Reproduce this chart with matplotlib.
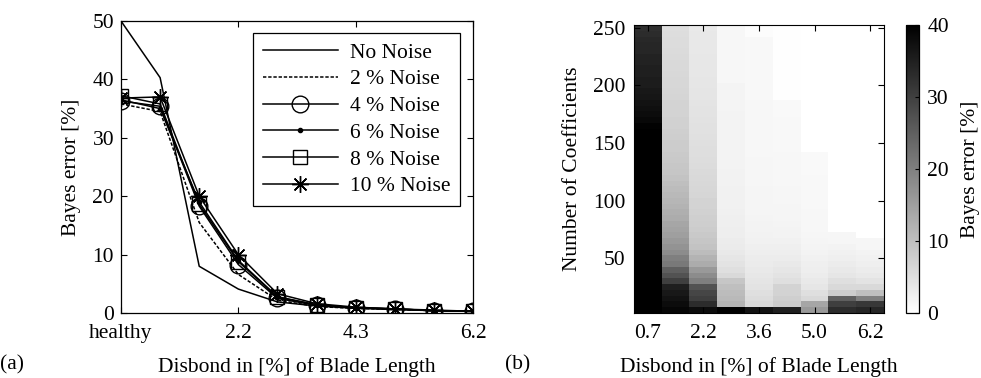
import numpy as np
import matplotlib
matplotlib.use("Agg")
import matplotlib.pyplot as plt

plt.rcParams["font.family"] = ["Liberation Serif", "DejaVu Serif"]
plt.rcParams["font.size"] = 15.5

# ---- panel (a): Bayes error vs disbond size for noise levels ----
x_pos = np.arange(10)
x_ticks = [0, 3, 6, 9]
x_ticklabels = ["healthy", "2.2", "4.3", "6.2"]

no_noise = [50.0, 40.3, 8.0, 4.1, 1.9, 1.2, 0.8, 0.6, 0.4, 0.3]
noise2 = [35.8, 34.5, 15.5, 6.6, 2.2, 1.1, 0.8, 0.6, 0.4, 0.3]
noise4 = [36.3, 35.4, 18.3, 8.3, 2.5, 1.3, 0.9, 0.7, 0.4, 0.3]
noise6 = [36.5, 35.0, 19.0, 9.0, 2.8, 1.4, 0.9, 0.7, 0.4, 0.3]
noise8 = [37.2, 35.8, 18.6, 8.8, 2.7, 1.4, 0.9, 0.7, 0.4, 0.3]
noise10 = [36.8, 37.0, 20.0, 10.0, 3.3, 1.6, 1.0, 0.7, 0.5, 0.3]

# ---- panel (b): Bayes error map, coefficients x disbond ----
disbond = [0.7, 1.5, 2.2, 2.9, 3.6, 4.3, 5.0, 5.6, 6.2]
n_coef = np.arange(5, 255, 5)  # 5 .. 250

# one list per disbond column, from n=5 up to n=250 (50 values)
col0 = [42] * 30 + [40.5, 40, 39.5, 38.5, 38, 37.5, 37, 36.5, 36, 35.5,
                    35.5, 35, 35, 34.5, 34.5, 34, 34, 33.5, 33, 32.5]
col1 = [39, 38, 37, 36, 35, 30, 27, 25, 21, 20,
        18, 17, 16, 15, 14.5, 14, 13, 12.5, 12, 11.5,
        11, 10.5, 10, 9.5, 9, 8.8, 8.5, 8.3, 8, 8,
        7.8, 7.5, 7.3, 7.2, 7, 7, 6.8, 6.7, 6.5, 6.4,
        6.3, 6.2, 6, 6, 5.8, 5.7, 5.6, 5.5, 5.4, 5.3]
col2 = [38, 33, 30, 29, 27, 20, 18, 16, 13, 12,
        10.5, 9.5, 9, 8.5, 8, 7.8, 7.5, 7.2, 7, 6.8,
        6.5, 6.3, 6.2, 6, 5.8, 5.6, 5.4, 5.3, 5.2, 5,
        4.9, 4.8, 4.7, 4.6, 4.5, 4.4, 4.3, 4.2, 4.1, 4,
        4, 3.9, 3.9, 3.8, 3.8, 3.7, 3.7, 3.6, 3.6, 3.5]
col3 = [40, 12, 11, 10.5, 10, 9, 6, 5, 4.5, 4,
        3.5, 3.2, 3, 2.8, 2.7, 2.6, 2.5, 2.4, 2.3, 2.2,
        2.2, 2.2, 2.1, 2.1, 2.1, 2.0, 2.0, 2.0, 2.0, 2.0,
        1.9, 1.9, 1.9, 1.9, 1.9, 1.8, 1.8, 1.8, 1.8, 1.8,
        1.4, 1.4, 1.4, 1.4, 1.4, 1.4, 1.4, 1.4, 1.4, 1.4]
col4 = [37, 6, 5.5, 5, 4.5, 4.2, 3.8, 3.5, 3.2, 3,
        2.7, 2.5, 2.3, 2.1, 2, 1.9, 1.8, 1.7, 1.7, 1.6,
        1.6, 1.6, 1.5, 1.5, 1.5, 1.5, 1.5, 1.4, 1.4, 1.4,
        1.4, 1.4, 1.3, 1.3, 1.3, 1.3, 1.3, 1.2, 1.2, 1.2,
        1.2, 1.2, 1.2, 1.1, 1.1, 1.1, 1.1, 1.1, 0.5, 0.5]
col5 = [35, 8, 7.5, 7, 7, 5, 4.5, 4, 3.5, 3,
        2.8, 2.5, 2.2, 2, 1.9, 1.8, 1.7, 1.6, 1.6, 1.5,
        1.5, 1.5, 1.4, 1.4, 1.4, 1.3, 1.3, 1.3, 1.2, 1.2,
        1.2, 1.1, 1.1, 1.1, 1.0, 1.0, 1.0, 0.3, 0.3, 0.3,
        0.3, 0.3, 0.3, 0.3, 0.3, 0.3, 0.3, 0.3, 0.3, 0.3]
col6 = [16, 14, 6, 5, 4, 3.5, 3, 2.8, 2.5, 2.2,
        2, 1.8, 1.6, 1.5, 1.4, 1.4, 1.3, 1.3, 1.2, 1.2,
        1.2, 1.1, 1.1, 1.1, 1.0, 1.0, 1.0, 1.0] + [0] * 22
col7 = [33, 30, 25, 8, 6, 5, 4, 3.5, 3, 2.5,
        2.2, 2, 1.5, 1.5] + [0] * 36
col8 = [34, 31, 20, 10, 6, 4.5, 3.5, 3, 2.5, 2.2,
        2, 1.5, 1.5] + [0] * 37

err_map = np.array([col0, col1, col2, col3, col4, col5, col6, col7, col8]).T

fig = plt.figure(figsize=(9.81, 3.78), dpi=100)

# ------------------------- (a) -------------------------
ax1 = fig.add_axes([121 / 981, 65 / 378, 352 / 981, 292 / 378])
lw = 1.1
ax1.plot(x_pos, no_noise, color="k", lw=lw, label="No Noise")
ax1.plot(x_pos, noise2, color="k", lw=lw, ls=(0, (2.2, 1.2)), label="2 % Noise")
ax1.plot(x_pos, noise4, color="k", lw=lw, marker="o", ms=12, mfc="none", mew=1.0,
         label="4 % Noise")
ax1.plot(x_pos, noise6, color="k", lw=lw, marker=".", ms=6, label="6 % Noise")
ax1.plot(x_pos, noise8, color="k", lw=lw, marker="s", ms=10, mfc="none", mew=1.0,
         label="8 % Noise")
ax1.plot(x_pos, noise10, color="k", lw=lw, marker=(8, 2, 0), ms=12, mew=1.0,
         label="10 % Noise")

ax1.set_xlim(0, 9)
ax1.set_ylim(0, 50)
ax1.set_xticks(x_ticks)
ax1.set_xticklabels(x_ticklabels)
ax1.set_yticks([0, 10, 20, 30, 40, 50])
ax1.tick_params(direction="in", top=True, right=True, length=4, width=0.8)
ax1.tick_params(axis="x", pad=8)
ax1.tick_params(axis="y", pad=5)
ax1.set_ylabel("Bayes error [%]", labelpad=8)
ax1.set_xlabel("Disbond in [%] of Blade Length", labelpad=10)
for sp in ax1.spines.values():
    sp.set_linewidth(0.9)

leg = ax1.legend(loc="upper right", bbox_to_anchor=((460 - 121) / 352, (313 - 33) / 292),
                 borderaxespad=0, fancybox=False, framealpha=1, edgecolor="k",
                 handlelength=3.5, handletextpad=0.55, labelspacing=0.31,
                 borderpad=0.45)
leg.get_frame().set_linewidth(0.9)

# ------------------------- (b) -------------------------
ax2 = fig.add_axes([634 / 981, 65 / 378, 250 / 981, 288 / 378])
im = ax2.imshow(err_map, cmap="gray_r", vmin=0, vmax=40, origin="lower",
                aspect="auto", interpolation="nearest",
                extent=(-0.5, len(disbond) - 0.5, n_coef[0] - 2.5, n_coef[-1] + 2.5))
ax2.set_xticks(range(0, len(disbond), 2))
ax2.set_xticklabels(["%.1f" % d for d in disbond[::2]])
ax2.set_yticks([50, 100, 150, 200, 250])
ax2.tick_params(direction="in", top=True, right=True, length=4, width=0.8)
ax2.tick_params(axis="x", pad=8)
ax2.tick_params(axis="y", pad=6)
ax2.set_ylabel("Number of Coefficients", labelpad=8)
ax2.set_xlabel("Disbond in [%] of Blade Length", labelpad=10)

cax = fig.add_axes([906 / 981, 65 / 378, 13 / 981, 288 / 378])
cb = fig.colorbar(im, cax=cax, ticks=[0, 10, 20, 30, 40])
cb.ax.tick_params(direction="in", length=3, width=0.8, pad=6)
cb.set_label("Bayes error [%]", labelpad=9)
cb.outline.set_linewidth(0.9)

fig.text(0.0, 0.034, "(a)", ha="left", va="center")
fig.text(505 / 981, 0.034, "(b)", ha="left", va="center")

fig.savefig("out.png", dpi=100)
